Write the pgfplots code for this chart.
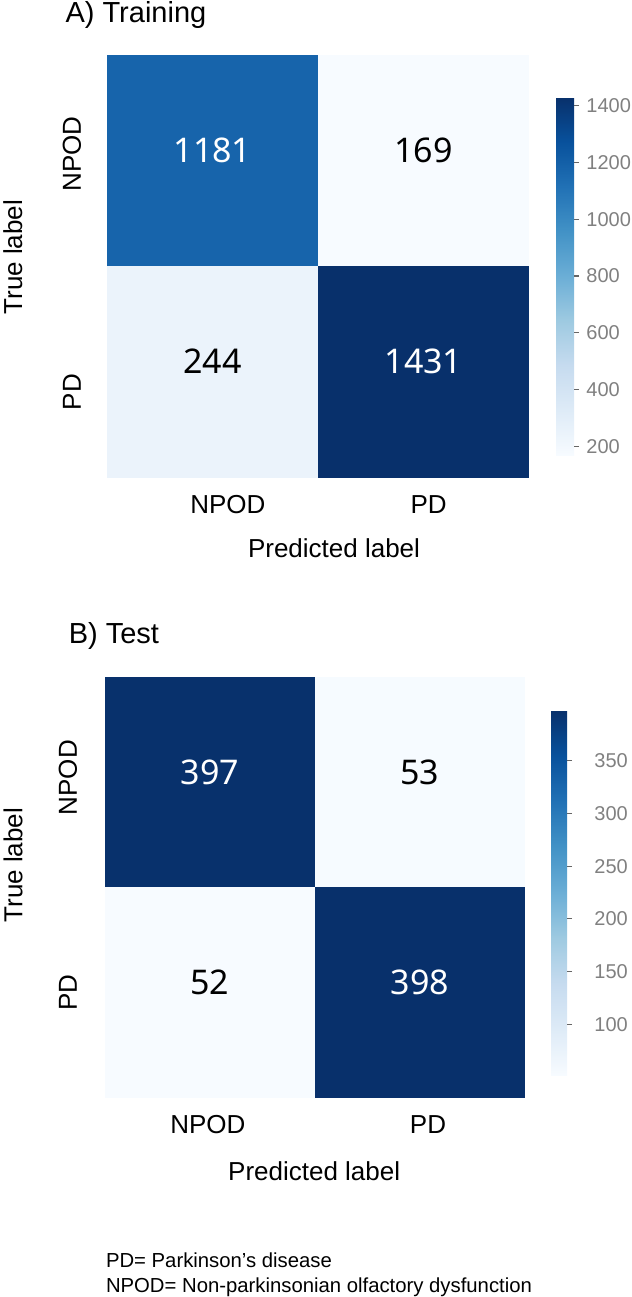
\documentclass[border=0pt]{standalone}
\usepackage{pgfplots}
\pgfplotsset{compat=1.18}
\usepackage{fontspec}
\setmainfont{Liberation Sans}
\newfontfamily\cellfont{Noto Sans}

\pgfplotsset{
  colormap={blues}{rgb255=(247,251,255) rgb255=(222,235,247) rgb255=(198,219,239)
    rgb255=(158,202,225) rgb255=(107,174,214) rgb255=(66,146,198)
    rgb255=(33,113,181) rgb255=(8,81,156) rgb255=(8,48,107)},
  confmat/.style={
    scale only axis,
    xmin=-0.5, xmax=1.5, ymin=-0.5, ymax=1.5, y dir=reverse,
    axis line style={draw=none}, major tick length=0pt,
    xticklabels={NPOD,PD}, yticklabels={NPOD,PD},
    tick label style={font=\fontsize{13}{15}\selectfont},
    xticklabel style={anchor=center, yshift=-14pt},
    colormap name=blues, colorbar,
    /pgf/number format/assume math mode=true,
    /pgf/number format/1000 sep={},
  },
  cbar/.style={
    scale only axis,
    axis line style={draw=none},
    tick align=outside, major tick length=2.5pt,
    ytick pos=right, yticklabel pos=right,
    tick style={draw=black!60, line width=0.6pt},
    yticklabel style={font=\fontsize{10}{12}\selectfont, text=black!50, anchor=west, inner sep=0pt},
    /pgf/number format/assume math mode=true,
    /pgf/number format/1000 sep={},
  },
  cellw/.style={draw=none, mark=none, point meta=explicit symbolic, nodes near coords,
    nodes near coords style={anchor=center, yshift=5pt, text=white,
      font=\cellfont\fontsize{17}{19}\selectfont}},
  cellb/.style={cellw, nodes near coords style={text=black}},
}

\begin{document}
\begin{tikzpicture}
\useasboundingbox (0,0) rectangle (316pt,-648.5pt);

% A) Training
\begin{axis}[confmat,
  at={(53.5pt,-238.5pt)}, anchor=south west, width=211pt, height=211pt,
  xtick={0.073,1.024}, ytick={-0.031,1.097},
  yticklabel style={anchor=center, xshift=-17.5pt, rotate=90},
  title={A) Training},
  every axis title/.style={at={(axis description cs:-0.115,1.076)}, anchor=base west, font=\fontsize{14.5}{16}\selectfont},
  xlabel={Predicted label}, ylabel={True label},
  every axis x label/.style={at={(axis description cs:0.538,-0.168)}, anchor=center, font=\fontsize{13}{15}\selectfont},
  every axis y label/.style={at={(axis description cs:-0.223,0.521)}, rotate=90, anchor=center, font=\fontsize{13}{15}\selectfont},
  point meta min=169, point meta max=1431,
  colorbar style={cbar, at={(parent axis.north east)}, anchor=north west,
    xshift=5pt, yshift=-21pt, width=9pt, height=179pt,
    ytick={200,400,...,1400}, yticklabel style={xshift=3.5pt}},
]
\addplot[matrix plot*, point meta=explicit, mesh/cols=2] coordinates {
  (0,0) [1181] (1,0) [169]
  (0,1) [244]  (1,1) [1431]
};
\addplot[cellw] coordinates {(0,0) [1181] (1,1) [1431]};
\addplot[cellb] coordinates {(1,0) [169] (0,1) [244]};
\end{axis}

% B) Test
\begin{axis}[confmat,
  at={(52.5pt,-548.5pt)}, anchor=south west, width=210pt, height=210pt,
  xtick={-0.01,1.038}, ytick={-0.021,1.002},
  yticklabel style={anchor=center, xshift=-18.5pt, rotate=90},
  title={B) Test},
  every axis title/.style={at={(axis description cs:-0.103,1.081)}, anchor=base west, font=\fontsize{14.5}{16}\selectfont},
  xlabel={Predicted label}, ylabel={True label},
  every axis x label/.style={at={(axis description cs:0.498,-0.177)}, anchor=center, font=\fontsize{13}{15}\selectfont},
  every axis y label/.style={at={(axis description cs:-0.219,0.552)}, rotate=90, anchor=center, font=\fontsize{13}{15}\selectfont},
  point meta min=52, point meta max=398,
  colorbar style={cbar, at={(parent axis.north east)}, anchor=north west,
    xshift=4.5pt, yshift=-16.5pt, width=8pt, height=182.5pt,
    ytick={100,150,...,350}, yticklabel style={xshift=11pt}},
]
\addplot[matrix plot*, point meta=explicit, mesh/cols=2] coordinates {
  (0,0) [397] (1,0) [53]
  (0,1) [52]  (1,1) [398]
};
\addplot[cellw] coordinates {(0,0) [397] (1,1) [398]};
\addplot[cellb] coordinates {(1,0) [53] (0,1) [52]};
\end{axis}

\node[anchor=base west, inner sep=0pt, font=\fontsize{10.15}{12}\selectfont] at (52.8pt,-633.5pt) {PD= Parkinson’s disease};
\node[anchor=base west, inner sep=0pt, font=\fontsize{10.15}{12}\selectfont] at (52.8pt,-646pt) {NPOD= Non-parkinsonian olfactory dysfunction};
\end{tikzpicture}
\end{document}
